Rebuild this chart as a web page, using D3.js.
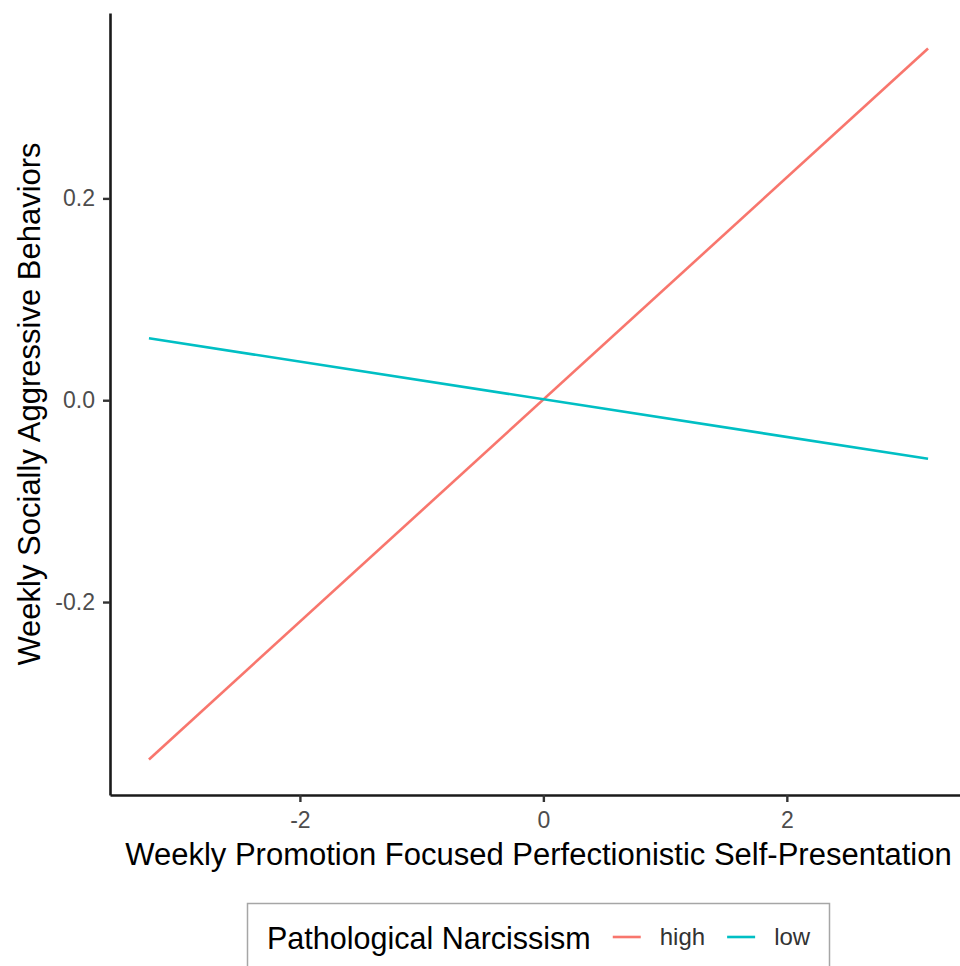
<!DOCTYPE html>
<html>
<head>
<meta charset="utf-8">
<script src="https://cdn.jsdelivr.net/npm/d3@7"></script>
<style>
  body { margin: 0; background: #fff; }
  text { font-family: "Liberation Sans", Arial, Helvetica, sans-serif; }
</style>
</head>
<body>
<div id="chart"></div>
<script>
// data: two predicted lines (simple slopes)
const groups = ["high", "low"];
const groupColors = ["#F8766D", "#00BFC4"];
const xVals = [-3.24, 3.16];
const highVals = [-0.356, 0.3485];
const lowVals = [0.0614, -0.058];
const xTicks = [-2, 0, 2];
const yTicks = [-0.2, 0.0, 0.2];
const xTitle = "Weekly Promotion Focused Perfectionistic Self-Presentation";
const yTitle = "Weekly Socially Aggressive Behaviors";
const legendTitle = "Pathological Narcissism";

const width = 960, height = 966;
var margin = { top: 13, left: 110, bottom: 171 };
var plotRight = 967; // panel runs a bit past the cropped edge

var svg = d3.select("#chart")
    .append("svg")
    .attr("width", width)
    .attr("height", height);

var series = [highVals, lowVals].map(function (vals, i) {
    return {
        name: groups[i],
        color: groupColors[i],
        points: xVals.map(function (x, j) { return { x: x, y: vals[j] }; })
    };
});

// ggplot style 5% expansion
function expand(ext) {
    var pad = (ext[1] - ext[0]) * 0.05;
    return [ext[0] - pad, ext[1] + pad];
}
var allY = highVals.concat(lowVals);

// plain hyphen instead of d3's unicode minus
function fmt(spec) {
    var f = d3.format(spec);
    return function (d) { return f(d).replace("\u2212", "-"); };
}

var x = d3.scaleLinear()
    .domain(expand(d3.extent(xVals)))
    .range([margin.left, plotRight]);

var y = d3.scaleLinear()
    .domain(expand(d3.extent(allY)))
    .range([height - margin.bottom, margin.top]);

// axes
var xAxis = svg.append("g")
    .attr("transform", "translate(0," + (height - margin.bottom) + ")")
    .call(d3.axisBottom(x)
        .tickValues(xTicks)
        .tickFormat(fmt("d"))
        .tickSize(7)
        .tickSizeOuter(0)
        .tickPadding(10));

var yAxis = svg.append("g")
    .attr("transform", "translate(" + margin.left + ",0)")
    .call(d3.axisLeft(y)
        .tickValues(yTicks)
        .tickFormat(fmt(".1f"))
        .tickSize(7)
        .tickSizeOuter(0)
        .tickPadding(8));

[xAxis, yAxis].forEach(function (a) {
    a.select(".domain").attr("stroke", "#1a1a1a").attr("stroke-width", 2.6);
    a.selectAll(".tick line").attr("stroke", "#333").attr("stroke-width", 2.4);
    a.selectAll(".tick text")
        .attr("fill", "#4d4d4d")
        .style("font-size", "23px")
        .style("font-family", "'Liberation Sans', Arial, sans-serif");
});

// lines
var line = d3.line()
    .x(function (d) { return x(d.x); })
    .y(function (d) { return y(d.y); });

svg.append("g")
    .selectAll("path")
    .data(series)
    .enter()
    .append("path")
    .attr("fill", "none")
    .attr("stroke", function (d) { return d.color; })
    .attr("stroke-width", 2.6)
    .attr("d", function (d) { return line(d.points); });

// axis titles
svg.append("text")
    .attr("x", (margin.left + plotRight) / 2)
    .attr("y", 865)
    .attr("text-anchor", "middle")
    .attr("fill", "#000")
    .style("font-size", "31px")
    .text(xTitle);

svg.append("text")
    .attr("transform", "translate(40," + ((margin.top + height - margin.bottom) / 2) + ") rotate(-90)")
    .attr("text-anchor", "middle")
    .attr("fill", "#000")
    .style("font-size", "31px")
    .text(yTitle);

// legend
var legend = svg.append("g");
legend.append("rect")
    .attr("x", 247.5)
    .attr("y", 903.5)
    .attr("width", 582)
    .attr("height", 120)
    .attr("fill", "#fff")
    .attr("stroke", "#a6a6a6")
    .attr("stroke-width", 1.5);

var lt = legend.append("text")
    .attr("x", 267)
    .attr("y", 949)
    .attr("fill", "#000")
    .style("font-size", "30.5px")
    .text(legendTitle);

var cursor = 267 + lt.node().getComputedTextLength() + 22;
series.forEach(function (s) {
    legend.append("line")
        .attr("x1", cursor)
        .attr("x2", cursor + 28)
        .attr("y1", 937)
        .attr("y2", 937)
        .attr("stroke", s.color)
        .attr("stroke-width", 2.6);
    var t = legend.append("text")
        .attr("x", cursor + 47)
        .attr("y", 945)
        .attr("fill", "#333")
        .style("font-size", "24px")
        .text(s.name);
    cursor = cursor + 47 + t.node().getComputedTextLength() + 22;
});
</script>
</body>
</html>
